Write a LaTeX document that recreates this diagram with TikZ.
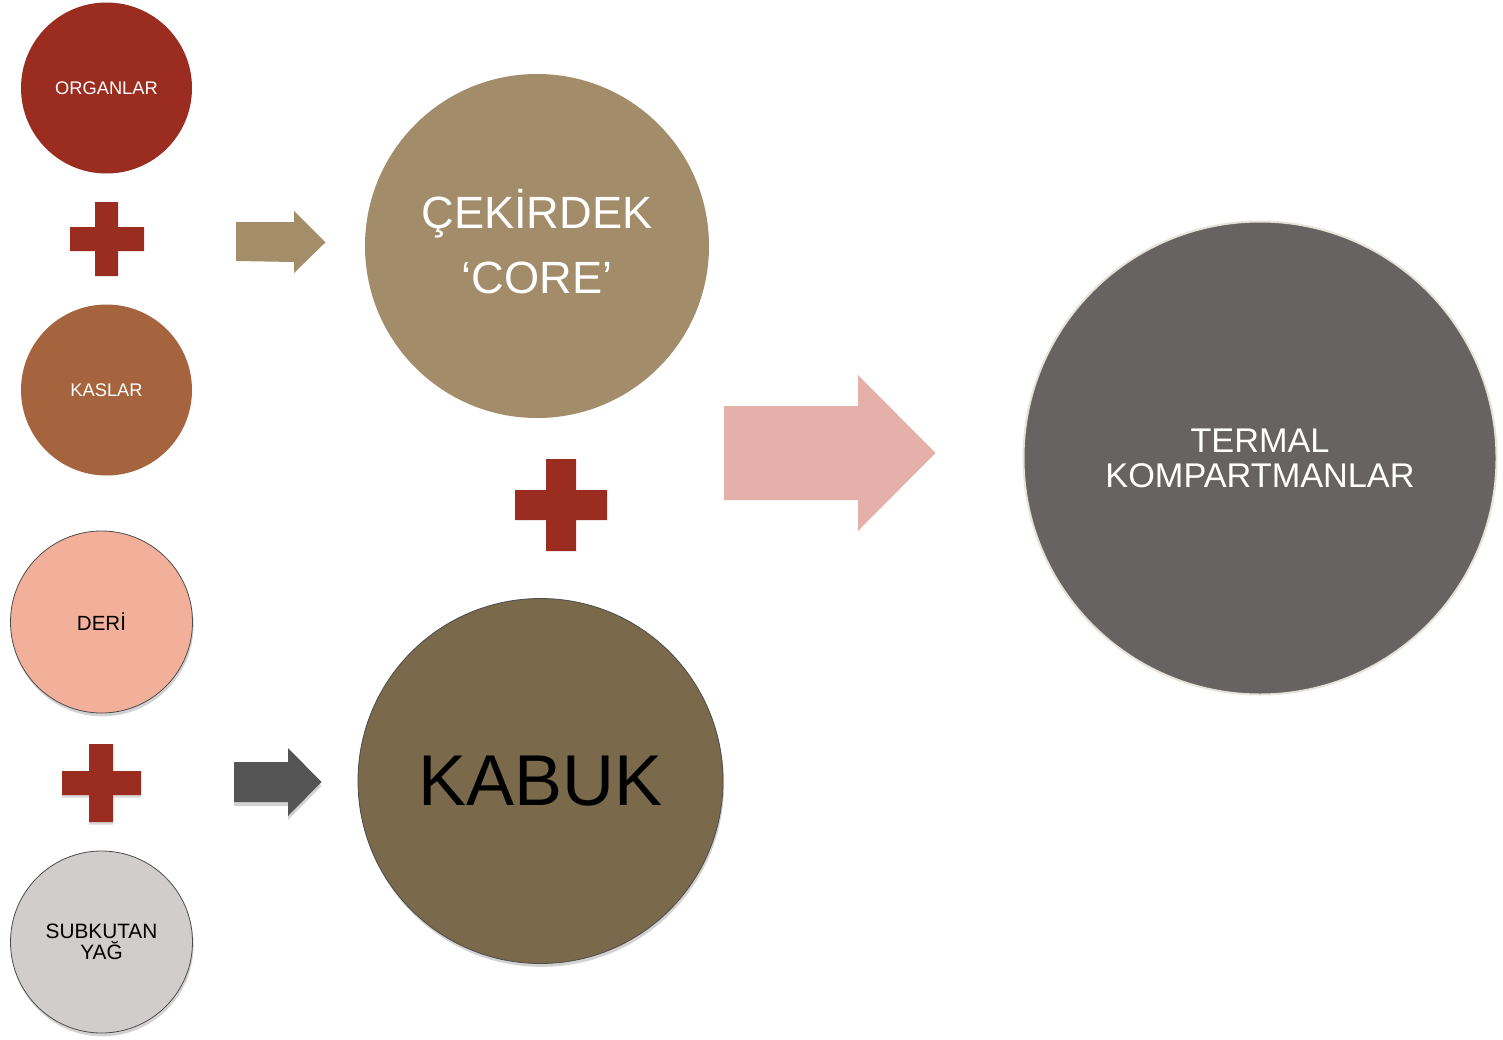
\documentclass[tikz,border=0pt]{standalone}
\usepackage{fontspec}
\setmainfont{Liberation Sans}
\usetikzlibrary{shadows}
\definecolor{cOrg}{HTML}{9B2C20}
\definecolor{cKas}{HTML}{A5643E}
\definecolor{cDeri}{HTML}{F2B09A}
\definecolor{cSub}{HTML}{D1CDCC}
\definecolor{cCore}{HTML}{A38C69}
\definecolor{cKab}{HTML}{7A694B}
\definecolor{cTerm}{HTML}{676362}
\definecolor{cTermB}{HTML}{E6E2D9}
\definecolor{cTanA}{HTML}{A48D69}
\definecolor{cGrayA}{HTML}{555555}
\definecolor{cPinkA}{HTML}{E5AFAA}
\def\u{0.75pt}
\tikzset{
  ball/.style={circle, inner sep=0pt, align=center},
  shadowed/.style={draw=black!70, line width=0.6pt,
    drop shadow={opacity=0.35, shadow xshift=0.8pt, shadow yshift=-2.5pt}},
}
\begin{document}
\begin{tikzpicture}[x=0.75pt, y=-0.75pt]
\useasboundingbox (0,0) rectangle (1503,1039);
\fill[white] (0,0) rectangle (1503,1039);

% left column
\node[ball, fill=cOrg, minimum size=171*\u, text=white,
  font=\fontsize{13.7}{16}\selectfont] (org) at (106.5,88) {ORGANLAR};
\node[ball, fill=cKas, minimum size=171*\u, text=white,
  font=\fontsize{13.7}{16}\selectfont] (kas) at (106.5,390) {KASLAR};
\node[ball, shadowed, fill=cDeri, minimum size=182*\u, text=black,
  font=\fontsize{15.4}{16}\selectfont] (deri) at (101.5,622) {DERİ};
\node[ball, shadowed, fill=cSub, minimum size=182*\u, text=black,
  font=\fontsize{15.6}{15.8}\selectfont] (sub) at (101.5,942) {SUBKUTAN\\YAĞ};

% middle column
\node[ball, fill=cCore, minimum size=344*\u, text=white,
  font=\fontsize{33.9}{48.75}\selectfont] (corebg) at (537,246) {};
\node[align=center, inner sep=0pt, text=white,
  font=\fontsize{33.9}{48.75}\selectfont] (core) at (537,242) {ÇEKİRDEK\\‘CORE’};
\node[ball, shadowed, fill=cKab, minimum size=365*\u, text=black,
  font=\fontsize{54}{60}\selectfont] (kab) at (540.5,781) {KABUK};

% right
\node[ball, fill=cTerm, draw=cTermB, line width=1.5pt, minimum size=473*\u, text=white,
  font=\fontsize{25.7}{26.3}\selectfont] (term) at (1260,458) {TERMAL\\KOMPARTMANLAR};

% plus signs
\fill[cOrg] (70,227) -- (95,227) -- (95,202) -- (118,202) -- (118,227) -- (144,227)
  -- (144,251) -- (118,251) -- (118,276) -- (95,276) -- (95,251) -- (70,251) -- cycle;
\fill[cOrg, drop shadow={opacity=0.3, shadow xshift=0pt, shadow yshift=-2pt}]
  (62,771) -- (89,771) -- (89,744) -- (113,744) -- (113,771) -- (141,771)
  -- (141,795) -- (113,795) -- (113,822) -- (89,822) -- (89,795) -- (62,795) -- cycle;
\fill[cOrg] (515,490) -- (546,490) -- (546,459) -- (576,459) -- (576,490) -- (607,490)
  -- (607,520) -- (576,520) -- (576,551) -- (546,551) -- (546,520) -- (515,520) -- cycle;

% block arrows
\fill[cTanA] (236,222) -- (294,222) -- (294,211) -- (325.5,242.3) -- (294,273)
  -- (294,262) -- (236,261) -- cycle;
\fill[cGrayA, drop shadow={opacity=0.35, shadow xshift=0pt, shadow yshift=-3pt}]
  (234,762) -- (288,762) -- (288,748) -- (321.5,782) -- (288,816) -- (288,802)
  -- (234,802) -- cycle;
\fill[cPinkA] (724,406) -- (858,406) -- (858,375) -- (935.5,453) -- (858,531)
  -- (858,500) -- (724,500) -- cycle;
\end{tikzpicture}
\end{document}
